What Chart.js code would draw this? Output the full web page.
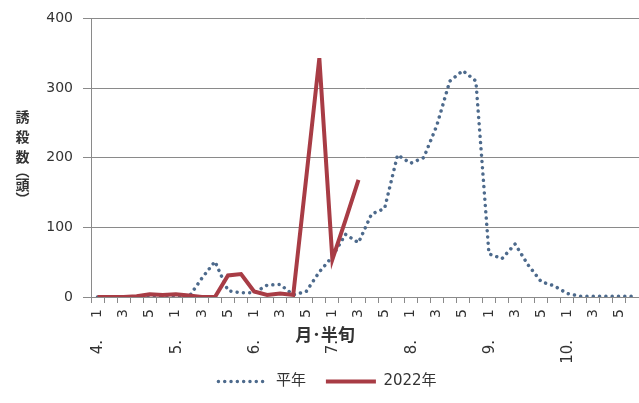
<!DOCTYPE html>
<html><head><meta charset="utf-8">
<script src="https://cdn.jsdelivr.net/npm/chart.js@4/dist/chart.umd.min.js"></script>
<style>html,body{margin:0;padding:0;background:#fff;overflow:hidden;} #wrap{position:relative;width:639px;height:403px;}</style>
</head><body><div id="wrap"><canvas id="c" width="639" height="403" style="width:639px;height:403px"></canvas></div>
<script>
// ---- data ----
const months = ['4.', '5.', '6.', '7.', '8.', '9.', '10.'];
const halves = ['1', '2', '3', '4', '5', '6'];
const categories = months.flatMap(m => halves.map(h => m + h));
const normalYear = [
  0, 0, 0, 0, 0, 0,
  0, 0, 27, 51, 9, 6,
  6, 17, 18, 3, 8, 36,
  58, 90, 78, 119, 127, 204,
  192, 200, 246, 310, 325, 310,
  62, 55, 76, 46, 22, 16,
  5, 1, 1, 1, 1, 1
];
const year2022 = [
  0, 0, 0, 1, 4, 3,
  4, 2, 0, 0, 31, 33,
  8, 3, 5, 3, 172, 343,
  54, 110, 168, null, null, null,
  null, null, null, null, null, null,
  null, null, null, null, null, null,
  null, null, null, null, null, null
];
const yTicks = [0, 100, 200, 300, 400];
const seriesNames = ['平年', '2022年'];
const xTitle = '月･半旬';
const yTitle = ['誘', '殺', '数', '︵', '頭', '︶'];

const TXT = '#333333';
const GRID = '#8a8a8a';

const customText = {
  id: 'customText',
  afterDraw(chart) {
    const ctx = chart.ctx;
    const xs = chart.scales.x;
    ctx.save();
    ctx.fillStyle = TXT;
    // month labels under the first half-period of each month
    ctx.font = '15px "DejaVu Sans"';
    months.forEach((m, k) => {
      const x = xs.getPixelForValue(k * halves.length);
      ctx.save();
      ctx.translate(x + 1, 340);
      ctx.rotate(-Math.PI / 2);
      ctx.textAlign = 'right';
      ctx.textBaseline = 'middle';
      ctx.fillText(m, 0, 0);
      ctx.restore();
    });
    // x axis title
    ctx.font = 'bold 17px "Noto Sans CJK JP"';
    ctx.textAlign = 'center';
    ctx.textBaseline = 'middle';
    ctx.fillText(xTitle, 325, 335);
    // y axis title, vertical writing
    ctx.font = 'bold 14px "Noto Sans CJK JP"';
    const ys = [117, 137, 157, 171, 185, 199];
    yTitle.forEach((ch, i) => {
      ctx.fillText(ch, 22.5, ys[i]);
    });
    ctx.restore();
  }
};

new Chart(document.getElementById('c'), {
  type: 'line',
  data: {
    labels: categories,
    datasets: [
      {
        label: seriesNames[0],
        data: normalYear,
        borderColor: '#4d6a8c',
        borderWidth: 3.5,
        borderDash: [0.01, 6.3],
        borderCapStyle: 'round',
        pointRadius: 0,
        tension: 0,
        fill: false,
        order: 2
      },
      {
        label: seriesNames[1],
        data: year2022,
        borderColor: '#a83c45',
        borderWidth: 4,
        borderCapStyle: 'butt',
        borderJoinStyle: 'miter',
        pointRadius: 0,
        tension: 0,
        fill: false,
        spanGaps: false,
        order: 1
      }
    ]
  },
  options: {
    responsive: false,
    animation: false,
    devicePixelRatio: 1,
    layout: { padding: { left: 16, right: 0, top: 13, bottom: 4 } },
    plugins: {
      legend: {
        position: 'bottom',
        labels: {
          usePointStyle: true,
          pointStyle: 'line',
          pointStyleWidth: 50,
          padding: 20,
          color: TXT,
          font: { size: 15, family: '"DejaVu Sans", "Noto Sans CJK JP"' },
          sort: (a, b) => a.datasetIndex - b.datasetIndex,
          generateLabels(chart) {
            const items = Chart.defaults.plugins.legend.labels.generateLabels(chart);
            items.forEach(it => {
              const ds = chart.data.datasets[it.datasetIndex];
              it.lineDash = ds.borderDash || [];
              it.lineCap = ds.borderCapStyle;
              it.lineWidth = ds.borderWidth;
              it.strokeStyle = ds.borderColor;
              it.fillStyle = ds.borderColor;
              it.pointStyle = 'line';
            });
            return items;
          }
        }
      },
      tooltip: { enabled: false }
    },
    scales: {
      x: {
        offset: true,
        grid: { display: true, drawOnChartArea: false, drawTicks: true, tickLength: 6, color: GRID, offset: true },
        border: { display: true, color: GRID, width: 1 },
        ticks: {
          autoSkip: false,
          minRotation: 90,
          maxRotation: 90,
          padding: 6,
          color: TXT,
          font: { size: 14, family: '"DejaVu Sans"' },
          callback: (v, i) => (i % 2 === 0 ? halves[i % halves.length] : '')
        },
        afterFit(s) { s.height = 57; s.paddingRight = 0; s.paddingLeft = 0; }
      },
      y: {
        min: 0,
        max: 400,
        afterBuildTicks(s) { s.ticks = yTicks.map(v => ({ value: v })); },
        grid: { color: GRID, tickLength: 8, drawTicks: true },
        border: { display: true, color: GRID, width: 1 },
        ticks: {
          padding: 10,
          color: TXT,
          font: { size: 14, family: '"DejaVu Sans"' }
        },
        afterFit(s) { s.width = 75; }
      }
    }
  },
  plugins: [customText]
});
</script>
</body></html>
